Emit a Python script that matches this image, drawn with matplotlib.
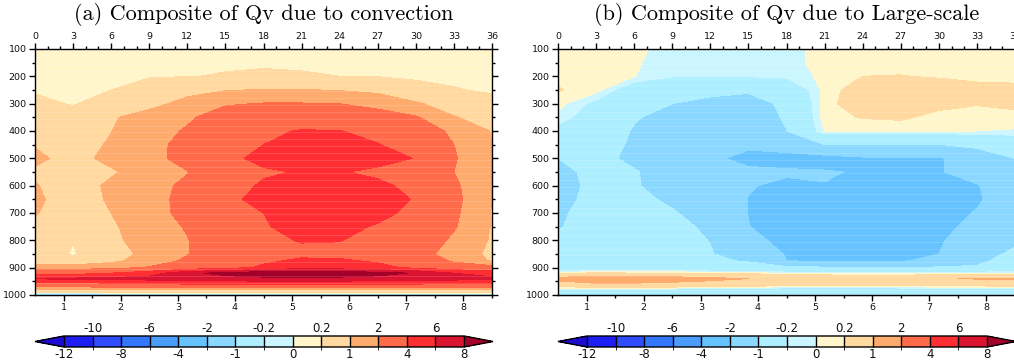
import numpy as np
import matplotlib
matplotlib.use("Agg")
import matplotlib.pyplot as plt
from matplotlib.colors import ListedColormap, BoundaryNorm
from matplotlib.ticker import MultipleLocator, FixedLocator
import matplotlib.transforms as mtransforms

plt.rcParams["axes.unicode_minus"] = False

# ---------------------------------------------------------------- data
hours = [0, 3, 6, 9, 12, 15, 18, 21, 24, 27, 30, 33, 36]
plev = [100, 150, 200, 250, 300, 350, 400, 450, 500, 550, 600, 650, 700,
        750, 800, 850, 875, 900, 920, 940, 960, 980, 1000]

# Qv tendency due to convection (rows: pressure levels, columns: hours)
qv_conv = [
    [0.08, 0.08, 0.08, 0.09, 0.10, 0.11, 0.12, 0.12, 0.11, 0.10, 0.09, 0.08, 0.08],
    [0.10, 0.10, 0.11, 0.12, 0.14, 0.16, 0.17, 0.17, 0.16, 0.15, 0.13, 0.11, 0.10],
    [0.13, 0.12, 0.15, 0.17, 0.19, 0.22, 0.24, 0.22, 0.20, 0.18, 0.16, 0.14, 0.13],
    [0.16, 0.12, 0.20, 0.45, 0.70, 0.95, 1.05, 1.05, 0.95, 0.80, 0.30, 0.22, 0.16],
    [0.30, 0.17, 0.40, 0.70, 1.30, 1.90, 2.05, 2.05, 2.00, 1.60, 1.10, 0.60, 0.30],
    [0.50, 0.40, 0.90, 1.40, 1.85, 2.50, 2.90, 3.00, 2.90, 2.60, 2.10, 1.05, 0.60],
    [0.60, 0.50, 0.98, 1.60, 2.10, 3.00, 3.70, 4.10, 4.05, 3.30, 2.60, 1.80, 0.95],
    [0.95, 0.60, 1.10, 1.75, 2.25, 3.30, 4.00, 4.60, 4.60, 4.10, 2.90, 2.00, 1.00],
    [1.15, 0.75, 1.20, 1.65, 2.40, 3.60, 4.40, 4.70, 4.70, 4.50, 3.95, 2.10, 1.00],
    [0.90, 0.60, 0.90, 1.40, 1.95, 3.00, 3.80, 4.10, 4.10, 3.70, 3.00, 2.00, 0.98],
    [1.05, 0.60, 1.15, 1.65, 2.20, 3.30, 4.20, 4.50, 4.50, 4.30, 3.60, 2.20, 1.00],
    [1.15, 0.60, 1.10, 1.65, 2.30, 3.60, 4.50, 4.80, 4.80, 4.60, 3.90, 2.30, 1.00],
    [1.05, 0.55, 1.00, 1.60, 2.30, 3.30, 4.00, 4.60, 4.60, 4.30, 3.70, 2.20, 0.95],
    [0.80, 0.50, 0.90, 1.40, 2.10, 3.00, 3.90, 4.40, 4.30, 3.90, 3.20, 2.10, 0.95],
    [0.70, 0.22, 0.85, 1.30, 1.95, 2.80, 3.60, 4.10, 4.05, 3.50, 2.80, 1.80, 0.90],
    [0.60, 0.14, 0.70, 1.20, 1.95, 2.80, 3.30, 3.60, 3.60, 3.30, 2.50, 1.50, 0.80],
    [0.60, 0.40, 0.80, 1.40, 2.20, 3.00, 3.70, 4.30, 4.20, 3.80, 3.00, 1.80, 0.90],
    [1.30, 1.40, 1.60, 2.10, 2.60, 3.30, 4.30, 5.20, 5.00, 4.50, 3.60, 2.80, 2.50],
    [3.00, 3.30, 4.00, 5.00, 7.50, 8.60, 9.30, 9.50, 9.30, 8.70, 7.80, 6.00, 5.00],
    [6.20, 6.30, 6.50, 6.80, 7.00, 7.30, 7.50, 7.50, 7.50, 7.30, 7.00, 6.80, 6.50],
    [3.00, 3.20, 3.50, 3.80, 4.00, 4.20, 4.20, 4.20, 4.20, 4.10, 4.00, 3.80, 3.50],
    [0.80, 0.80, 0.90, 1.00, 1.00, 1.00, 1.00, 1.00, 1.00, 1.00, 1.00, 1.00, 0.90],
    [-0.50, -0.50, -0.50, -0.50, -0.50, -0.50, -0.50, -0.50, -0.50, -0.50, -0.50, -0.50, -0.50],
]

# Qv tendency due to large-scale processes
qv_ls = [
    [0.10, 0.10, 0.03, -0.05, -0.08, -0.10, -0.05, 0.05, 0.10, 0.10, 0.10, 0.10, 0.10],
    [0.10, 0.08, 0.02, -0.08, -0.12, -0.12, -0.05, 0.05, 0.12, 0.12, 0.13, 0.13, 0.12],
    [0.15, 0.06, 0.01, -0.18, -0.19, -0.18, -0.15, 0.06, 0.20, 0.21, 0.17, 0.15, 0.15],
    [0.22, 0.08, -0.50, -0.70, -0.80, -0.90, -0.60, 0.08, 0.35, 0.45, 0.40, 0.27, 0.25],
    [0.08, -0.30, -0.75, -1.00, -1.20, -1.30, -0.85, 0.10, 0.40, 0.45, 0.30, 0.22, 0.28],
    [-0.05, -0.45, -0.95, -1.20, -1.40, -1.50, -0.90, 0.10, 0.22, 0.25, 0.10, 0.08, 0.10],
    [-0.35, -0.60, -1.05, -1.30, -1.60, -1.70, -1.02, 0.01, 0.01, 0.02, 0.01, 0.00, -0.02],
    [-0.60, -0.70, -1.10, -1.40, -1.70, -1.90, -1.60, -1.00, -1.05, -1.05, -1.02, -0.85, -0.60],
    [-1.00, -0.80, -1.15, -1.50, -1.90, -2.15, -2.30, -2.30, -2.10, -2.05, -2.10, -1.40, -1.00],
    [-1.20, -0.80, -0.95, -1.30, -1.60, -1.90, -1.90, -1.95, -2.05, -2.20, -2.05, -1.70, -1.20],
    [-1.30, -0.80, -0.95, -1.25, -1.50, -1.95, -2.15, -2.02, -2.20, -2.30, -2.20, -2.05, -1.40],
    [-1.20, -0.80, -0.85, -1.10, -1.40, -2.02, -2.40, -2.40, -2.40, -2.40, -2.30, -2.10, -1.50],
    [-1.10, -0.75, -0.80, -0.95, -1.25, -2.02, -2.50, -2.50, -2.50, -2.40, -2.30, -1.95, -1.40],
    [-1.05, -0.70, -0.75, -0.85, -1.10, -1.98, -2.40, -2.50, -2.50, -2.30, -2.20, -1.80, -1.30],
    [-0.90, -0.65, -0.70, -0.75, -1.02, -1.80, -2.20, -2.40, -2.40, -2.20, -2.10, -1.50, -1.10],
    [-0.70, -0.60, -0.65, -0.70, -0.95, -1.50, -2.05, -2.30, -2.30, -2.15, -2.00, -1.20, -0.90],
    [-0.60, -0.60, -0.60, -0.65, -0.90, -1.05, -2.00, -2.10, -2.10, -2.05, -1.85, -1.10, -0.80],
    [-0.50, -0.60, -0.55, -0.60, -0.70, -0.75, -0.80, -0.90, -0.90, -0.95, -0.90, -0.95, -0.60],
    [0.00, 0.30, 0.20, 0.20, 0.10, 0.10, -0.05, -0.10, -0.10, -0.10, -0.10, -0.05, 0.00],
    [1.30, 1.60, 1.50, 1.40, 1.20, 1.00, 0.90, 0.80, 0.70, 0.70, 0.95, 1.05, 1.10],
    [0.60, 0.90, 0.90, 0.80, 0.70, 0.60, 0.50, 0.40, 0.45, 0.45, 0.50, 0.50, 0.60],
    [-0.20, -0.30, -0.30, -0.30, -0.35, -0.40, -0.50, -0.50, -0.50, -0.45, -0.40, -0.40, -0.35],
    [-0.40, -0.50, -0.60, -0.70, -0.80, -0.90, -1.05, -1.10, -1.10, -1.05, -0.90, -0.70, -0.60],
]

levels = [-12, -10, -8, -6, -4, -2, -1, -0.2, 0, 0.2, 1, 2, 4, 6, 8]
level_labels = ["-12", "-10", "-8", "-6", "-4", "-2", "-1", "-0.2",
                "0", "0.2", "1", "2", "4", "6", "8"]
titles = ["(a) Composite of Qv due to convection",
          "(b) Composite of Qv due to Large-scale"]

fill_colors = ["#1e1ef2", "#2f4cff", "#3377ff", "#4a9cff", "#66c3ff",
               "#8ad8ff", "#adeeff", "#ccf6ff", "#fff6cc", "#ffd99f",
               "#ffab6e", "#ff6a4a", "#ff2e33", "#db1431"]
under_color = "#1c0bd0"
over_color = "#a3002a"

# ---------------------------------------------------------------- figure
W, H = 1014, 360
fig = plt.figure(figsize=(W / 100, H / 100), dpi=100)


def px_axes(left, top, right, bottom):
    return fig.add_axes([left / W, 1 - bottom / H, (right - left) / W,
                         (bottom - top) / H])


cmap = ListedColormap(fill_colors)
cmap.set_under(under_color)
cmap.set_over(over_color)
norm = BoundaryNorm(levels, cmap.N)

tick_font = dict(family="DejaVu Sans", size=6.8, color="#111111")

X, P = np.meshgrid(hours, plev)
panels = [(35, 492, qv_conv), (558, 1015, qv_ls)]

for (left, right, field), title in zip(panels, titles):
    ax = px_axes(left, 49, right, 295)
    cs = ax.contourf(X, P, np.array(field), levels=levels, cmap=cmap,
                     norm=norm, extend="both")
    # faint level seams across the fill
    for p in np.arange(105, 1000, 25):
        ax.axhline(p, color="white", alpha=0.2, lw=0.5, zorder=2)

    ax.set_xlim(0, 36)
    ax.set_ylim(1000, 100)
    ax.xaxis.set_ticks_position("top")
    ax.set_xticks(np.arange(0, 37, 3))
    ax.xaxis.set_minor_locator(MultipleLocator(1))
    ax.set_yticks(np.arange(100, 1001, 100))
    ax.yaxis.set_minor_locator(MultipleLocator(50))
    ax.tick_params(which="both", direction="out", top=True, bottom=False,
                   left=True, right=True, labeltop=True, labelbottom=False,
                   labelleft=True, labelright=False, width=1.0, color="black")
    ax.tick_params(which="major", length=4.5, pad=1.5)
    ax.tick_params(which="minor", length=2.5)
    for lab in ax.get_xticklabels() + ax.get_yticklabels():
        lab.set(**tick_font)
    for s in ax.spines.values():
        s.set_linewidth(1.0)

    day = ax.secondary_xaxis("bottom", functions=(lambda t: t / 4.5 + 0.5,
                                                  lambda d: (d - 0.5) * 4.5))
    day.set_xticks(np.arange(1, 9))
    day.xaxis.set_minor_locator(FixedLocator(np.arange(1.5, 8.6, 1.0)))
    day.tick_params(which="both", direction="out", width=1.0)
    day.tick_params(which="major", length=4.5, pad=1.0)
    day.tick_params(which="minor", length=2.5)
    for lab in day.get_xticklabels():
        lab.set(**tick_font)

    fig.text((left + right) / 2 / W, 1 - 15 / H, title, ha="center",
             va="center", family="cmr10", size=16)

    # colour bar with alternating labels above / below
    cax = px_axes(left, 336, right + 1, 347)
    cb = fig.colorbar(cs, cax=cax, orientation="horizontal",
                      extendfrac=0.0725, drawedges=True, ticks=levels[::2])
    cb.set_ticklabels(level_labels[::2])
    cb.outline.set_linewidth(1.0)
    cb.dividers.set_linewidth(1.0)
    cb.dividers.set_color("black")
    cb.ax.tick_params(length=0, pad=0.5, labelsize=8.5)
    for lab in cb.ax.get_xticklabels():
        lab.set(family="DejaVu Sans", color="#111111")
    trans = mtransforms.blended_transform_factory(cb.ax.transData,
                                                  cb.ax.transAxes)
    for lv, txt in zip(levels[1::2], level_labels[1::2]):
        cb.ax.text(lv, 1.12, txt, transform=trans, ha="center", va="bottom",
                   family="DejaVu Sans", size=8.5, color="#111111")

fig.savefig("out.png", dpi=100)
